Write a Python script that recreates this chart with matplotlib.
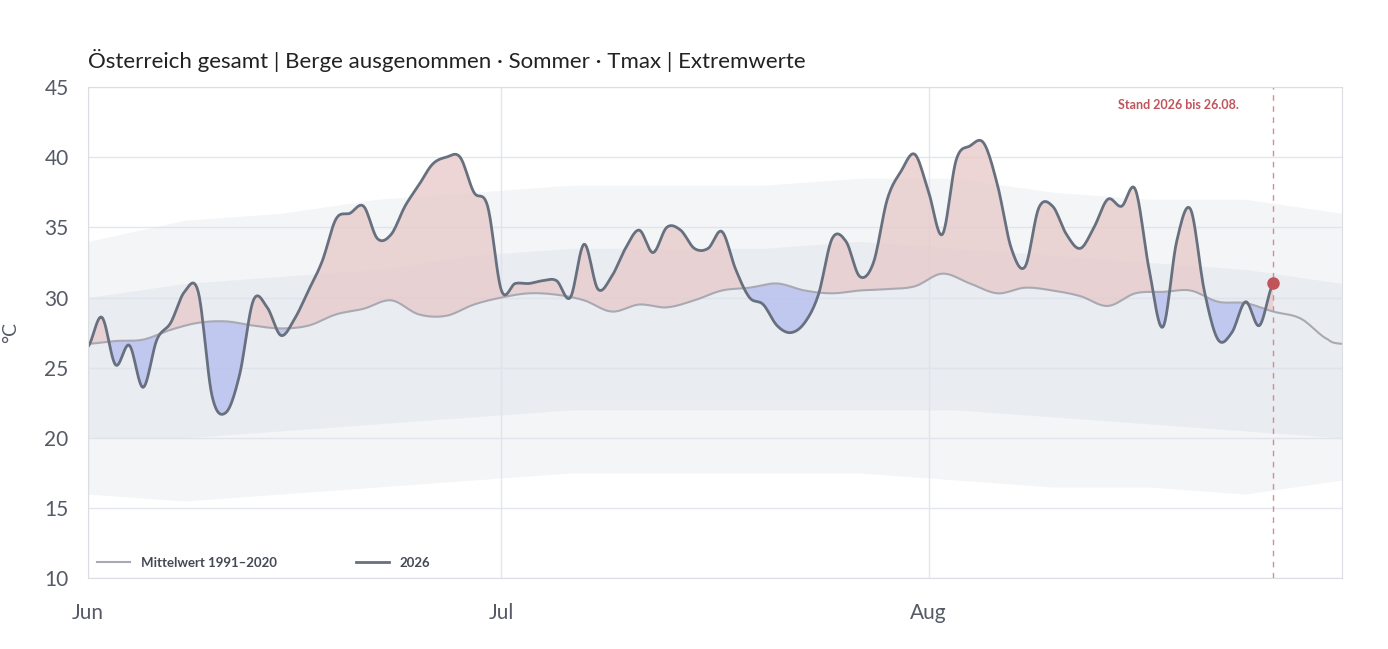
import numpy as np
import matplotlib.pyplot as plt

# Tmax 2026, daily from 1 Jun (day 0) to 26 Aug (day 86)
t2026 = [26.5, 28.6, 25.2, 26.6, 23.6, 27.0, 28.2, 30.4, 30.4, 23.0,
         21.8, 24.5, 29.8, 29.3, 27.3, 28.5, 30.5, 32.6, 35.6, 36.0,
         36.5, 34.2, 34.5, 36.5, 38.0, 39.5, 40.0, 40.0, 37.5, 36.5,
         30.5, 31.0, 31.0, 31.2, 31.2, 30.0, 33.8, 30.6, 31.5, 33.5,
         34.8, 33.2, 35.0, 34.8, 33.5, 33.5, 34.7, 32.0, 30.0, 29.5,
         28.0, 27.5, 28.2, 30.2, 34.2, 34.0, 31.5, 32.5, 37.0, 39.0,
         40.2, 37.5, 34.5, 39.8, 40.8, 41.0, 38.0, 33.5, 32.2, 36.4,
         36.5, 34.5, 33.5, 35.0, 37.0, 36.5, 37.7, 32.0, 27.9, 34.0,
         36.3, 30.5, 27.0, 27.5, 29.7, 28.0, 31.0]

# Mittelwert 1991-2020 (every 2 days, day 0..90, plus day 91)
mean_days = list(range(0, 92, 2)) + [91]
mean_vals = [26.7, 26.9, 27.0, 27.7, 28.2, 28.3, 28.0, 27.8, 28.0, 28.8,
             29.2, 29.8, 28.8, 28.7, 29.5, 30.0, 30.3, 30.2, 29.8, 29.0,
             29.5, 29.3, 29.8, 30.5, 30.7, 31.0, 30.5, 30.3, 30.5, 30.6,
             30.8, 31.7, 31.0, 30.3, 30.7, 30.5, 30.1, 29.4, 30.3, 30.4,
             30.5, 29.7, 29.6, 29.0, 28.5, 27.0, 26.7]

# range of the earlier years (weekly envelope) and the dense core
env_days = [0, 7, 14, 21, 28, 35, 42, 49, 56, 63, 70, 77, 84, 91]
env_low = [16, 15.5, 16, 16.5, 17, 17.5, 17.5, 17.5, 17.5, 17, 16.5, 16.5, 16, 17]
env_high = [34, 35.5, 36, 37, 37.5, 38, 38, 38, 38.5, 38.5, 37.5, 37, 37, 36]
core_low = [20, 20, 20.5, 21, 21.5, 22, 22, 22, 22, 22, 21.5, 21, 20.5, 20]
core_high = [30, 31, 31.5, 32, 33, 33.5, 33.5, 33.5, 34, 33.5, 33, 32.5, 32, 31]


def catmull(x, y, n=12):
    x = np.asarray(x, float); y = np.asarray(y, float)
    px = np.concatenate([[x[0]], x, [x[-1]]])
    py = np.concatenate([[y[0]], y, [y[-1]]])
    xs, ys = [], []
    t = np.linspace(0, 1, n, endpoint=False)
    for i in range(1, len(px) - 2):
        p0, p1, p2, p3 = py[i - 1], py[i], py[i + 1], py[i + 2]
        ys.append(0.5 * (2 * p1 + (-p0 + p2) * t + (2 * p0 - 5 * p1 + 4 * p2 - p3) * t ** 2
                         + (-p0 + 3 * p1 - 3 * p2 + p3) * t ** 3))
        xs.append(px[i] + (px[i + 1] - px[i]) * t)
    xs.append([x[-1]]); ys.append([y[-1]])
    return np.concatenate(xs), np.concatenate(ys)


plt.rcParams['font.family'] = ['Lato', 'DejaVu Sans']
fig = plt.figure(figsize=(13.88, 6.49), dpi=100)
ax = fig.add_axes([0.0634, 0.109, 0.9035, 0.757])

ax.fill_between(env_days, env_low, env_high, color='#dde3ea', alpha=0.35, lw=0)
ax.fill_between(env_days, core_low, core_high, color='#dde3ea', alpha=0.45, lw=0)

xs, ys = catmull(range(len(t2026)), t2026)
mx, my = catmull(mean_days, mean_vals)
m_at = np.interp(xs, mx, my)
ax.fill_between(xs, ys, m_at, where=ys >= m_at, interpolate=True, color='#e8c8c8', alpha=0.75, lw=0)
ax.fill_between(xs, ys, m_at, where=ys < m_at, interpolate=True, color='#b7bff0', alpha=0.8, lw=0)
ax.plot(mx, my, color='#a9a9b3', lw=1.5, label='Mittelwert 1991–2020')
ax.plot(xs, ys, color='#67707f', lw=2, label='2026')
ax.plot(86, t2026[-1], 'o', color='#c0545b', ms=8, zorder=5)
ax.axvline(86, color='#d88a90', ls=(0, (4, 4)), lw=1)
ax.text(83.5, 43.7, 'Stand 2026 bis 26.08.', color='#c0545b', fontsize=9,
        fontweight='bold', ha='right', va='center')

ax.set_xlim(0, 91)
ax.set_ylim(10, 45)
ax.set_yticks(range(10, 46, 5))
ax.set_xticks([0, 30, 61])
ax.set_xticklabels(['Jun', 'Jul', 'Aug'])
ax.tick_params(colors='#555a66', labelsize=15, length=0, pad=18)
ax.tick_params(axis='y', pad=14)
ax.grid(color='#e4e6ee', lw=1)
ax.set_axisbelow(True)
for s in ax.spines.values():
    s.set_color('#dcdde3')
ax.set_ylabel('°C', fontsize=14, color='#555a66', labelpad=18)

leg = ax.legend(loc='lower left', ncol=2, frameon=False, fontsize=9.5,
                handlelength=2.5, columnspacing=6, borderaxespad=0.3)
for txt in leg.get_texts():
    txt.set_fontweight('bold')
    txt.set_color('#444a55')

fig.text(0.0634, 0.895, 'Österreich gesamt | Berge ausgenommen · Sommer · Tmax | Extremwerte',
         fontsize=16, color='#222222')
fig.savefig('out.png', dpi=100)
